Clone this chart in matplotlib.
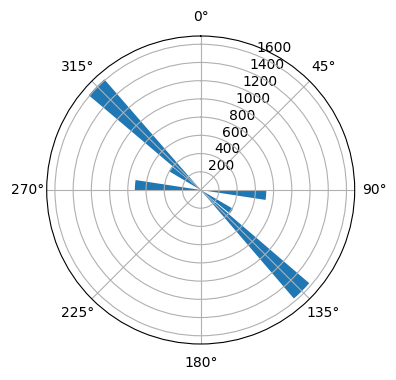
import numpy as np
import matplotlib
matplotlib.use('Agg')
import matplotlib.pyplot as plt

# bar centres (degrees, clockwise from north) and counts
angulos = [94.35, 124.5, 135.0, 274.35, 305.0, 314.6]
contagens = [720, 410, 1570, 723, 405, 1610]

largura = np.deg2rad(8.7)

fig = plt.figure(figsize=(3.96, 3.8), dpi=100)
# place the polar axes so the circle sits where it does in the reference
raio = 154
cx, cy = 200.7, 190
ax = fig.add_axes([(cx - raio) / 396, (380 - cy - raio) / 380,
                   2 * raio / 396, 2 * raio / 380], projection='polar')
ax.set_theta_zero_location('N')
ax.set_theta_direction(-1)

ax.bar(np.deg2rad(angulos), contagens, width=largura)

fig.savefig('out.png', dpi=100)
